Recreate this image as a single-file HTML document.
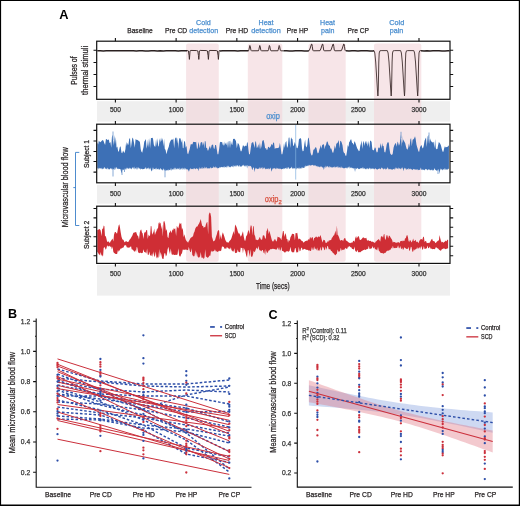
<!DOCTYPE html>
<html><head><meta charset="utf-8"><title>Figure</title>
<style>html,body{margin:0;padding:0;background:#fff;width:520px;height:506px;overflow:hidden}svg{display:block;will-change:transform}text{font-family:"Liberation Sans",sans-serif}</style>
</head><body>
<svg width="520" height="506" viewBox="0 0 520 506" font-family='"Liberation Sans", sans-serif'><rect x="0" y="0" width="520" height="506" fill="#fff"/>
<rect x="97.0" y="101.2" width="353.0" height="20.5" fill="#efefef"/>
<rect x="97.0" y="185.1" width="353.0" height="18.6" fill="#efefef"/>
<rect x="97.0" y="264.9" width="353.0" height="30.7" fill="#efefef"/>
<rect x="186.1" y="43.4" width="32.7" height="218.4" rx="2.2" fill="#f2d4d8" fill-opacity="0.6"/>
<rect x="247.8" y="43.4" width="34.5" height="218.4" rx="2.2" fill="#f2d4d8" fill-opacity="0.6"/>
<rect x="308.5" y="43.4" width="37.2" height="218.4" rx="2.2" fill="#f2d4d8" fill-opacity="0.6"/>
<rect x="374.0" y="43.4" width="47.3" height="218.4" rx="2.2" fill="#f2d4d8" fill-opacity="0.6"/>
<path d="M187.00,50.85 L187.20,50.55 L188.40,50.90 L189.05,55.50 L189.40,59.40 L189.75,55.00 L190.00,50.90 L190.80,50.45 L196.60,50.55 L197.80,50.90 L198.45,55.50 L198.80,59.40 L199.15,55.00 L199.40,50.90 L200.20,50.45 L206.20,50.55 L207.40,50.90 L208.05,55.50 L208.40,59.40 L208.75,55.00 L209.00,50.90 L209.80,50.45 L216.20,50.55 L217.40,50.90 L218.05,55.50 L218.40,59.40 L218.75,55.00 L219.00,50.90 L219.80,50.45 L219.80,50.60 M248.50,50.85 L248.55,50.75 L248.95,49.60 L249.85,45.50 L250.25,46.40 L250.95,50.30 L251.45,50.80 L258.45,50.75 L258.85,49.60 L259.75,45.50 L260.15,46.40 L260.85,50.30 L261.35,50.80 L268.10,50.75 L268.50,49.60 L269.40,45.50 L269.80,46.40 L270.50,50.30 L271.00,50.80 L277.90,50.75 L278.30,49.60 L279.20,45.50 L279.60,46.40 L280.30,50.30 L280.80,50.80 L283.50,50.85 M308.90,50.85 L309.10,50.70 L309.90,49.00 L311.50,44.10 L311.90,44.20 L312.30,46.50 L312.80,50.20 L313.30,50.80 L320.00,50.70 L320.80,49.00 L322.40,44.10 L322.80,44.20 L323.20,46.50 L323.70,50.20 L324.20,50.80 L330.60,50.70 L331.40,49.00 L333.00,44.10 L333.40,44.20 L333.80,46.50 L334.30,50.20 L334.80,50.80 L341.30,50.70 L342.10,49.00 L343.70,44.10 L344.10,44.20 L344.50,46.50 L345.00,50.20 L345.50,50.80 L346.00,50.85" fill="none" stroke="#3a2828" stroke-width="0.95" stroke-linejoin="round"/>
<path d="M374.00,50.60 L374.80,53.00 L375.70,62.00 L376.70,78.00 L377.50,91.00 L377.90,96.00 L378.25,90.00 L378.80,62.00 L379.20,53.00 L379.90,50.80 L381.10,50.60 L387.30,50.60 L388.10,53.00 L389.00,62.00 L390.00,78.00 L390.80,91.00 L391.20,96.00 L391.55,90.00 L392.10,62.00 L392.50,53.00 L393.20,50.80 L394.40,50.60 L400.60,50.60 L401.40,53.00 L402.30,62.00 L403.30,78.00 L404.10,91.00 L404.50,96.00 L404.85,90.00 L405.40,62.00 L405.80,53.00 L406.50,50.80 L407.70,50.60 L413.80,50.60 L414.60,53.00 L415.50,62.00 L416.50,78.00 L417.30,91.00 L417.70,96.00 L418.05,90.00 L418.60,62.00 L419.00,53.00 L419.70,50.80 L420.90,50.60 L421.00,50.85" fill="none" stroke="#3e2e2e" stroke-width="0.9" stroke-linejoin="round"/>
<path d="M97.30,50.81 L100.30,50.77 L103.30,50.89 L106.30,50.75 L109.30,50.86 L112.30,50.82 L115.30,50.74 L118.30,50.85 L121.30,50.74 L124.30,50.83 L127.30,50.75 L130.30,50.75 L133.30,50.83 L136.30,50.93 L139.30,50.76 L142.30,50.78 L145.30,50.88 L148.30,50.96 L151.30,50.87 L154.30,50.83 L157.30,50.96 L160.30,50.74 L163.30,50.94 L166.30,50.80 L169.30,50.76 L172.30,50.76 L175.30,50.80 L178.30,50.93 L181.30,50.77 L184.30,50.87 L187.00,50.85 M219.80,50.88 L222.80,50.82 L225.80,50.86 L228.80,50.75 L231.80,50.74 L234.80,50.78 L237.80,50.89 L240.80,50.83 L243.80,50.81 L246.80,50.87 L248.50,50.85 M283.50,50.84 L286.50,50.80 L289.50,50.92 L292.50,50.90 L295.50,50.79 L298.50,50.87 L301.50,50.86 L304.50,50.94 L307.50,50.91 L308.90,50.85 M346.00,50.80 L349.00,50.97 L352.00,50.76 L355.00,50.83 L358.00,50.91 L361.00,50.77 L364.00,50.85 L367.00,50.74 L370.00,50.89 L373.00,50.91 L374.00,50.85 M421.00,50.87 L424.00,50.94 L427.00,50.81 L430.00,50.90 L433.00,50.87 L436.00,50.87 L439.00,50.84 L442.00,50.93 L445.00,50.96 L448.00,50.84 L449.60,50.85" fill="none" stroke="#2a2020" stroke-width="1.5" stroke-linejoin="round"/>
<path d="M97.30,142.30 L98.20,144.47 L98.80,140.54 L99.64,141.68 L100.26,142.25 L101.12,141.49 L102.01,140.57 L102.75,140.11 L103.46,140.72 L104.25,142.92 L105.11,145.01 L105.90,139.20 L106.60,139.10 L107.31,140.24 L107.99,139.58 L108.88,139.73 L109.59,143.15 L110.47,141.91 L111.23,147.77 L111.94,136.79 L112.64,134.81 L113.48,145.69 L114.19,134.90 L115.00,144.30 L115.88,136.93 L116.54,147.83 L117.34,146.48 L118.17,151.50 L118.87,151.50 L119.76,147.31 L120.63,146.28 L121.43,152.42 L122.22,153.20 L123.07,150.60 L123.85,152.10 L124.55,153.00 L125.43,149.35 L126.16,141.83 L126.90,146.01 L127.67,142.80 L128.35,145.37 L129.22,138.70 L130.03,138.16 L130.84,148.23 L131.73,142.03 L132.35,137.45 L133.22,138.74 L134.08,143.21 L134.83,147.68 L135.58,139.11 L136.19,139.74 L136.98,139.67 L137.87,140.27 L138.55,140.71 L139.23,141.54 L139.85,141.51 L140.73,149.19 L141.35,151.49 L142.23,152.70 L142.86,149.81 L143.56,147.09 L144.26,141.65 L145.03,140.48 L145.87,138.95 L146.62,148.66 L147.44,144.40 L148.07,138.74 L148.70,147.78 L149.37,138.10 L150.05,148.52 L150.94,138.00 L151.68,137.89 L152.31,137.77 L152.98,138.59 L153.79,144.39 L154.44,146.21 L155.31,146.82 L156.06,138.88 L156.84,146.37 L157.45,137.94 L158.22,145.87 L158.82,146.77 L159.62,138.13 L160.29,142.41 L161.04,137.46 L161.83,141.20 L162.65,137.88 L163.33,146.45 L164.09,138.77 L164.75,148.65 L165.59,149.90 L166.48,154.20 L167.36,150.41 L168.17,148.22 L168.77,146.63 L169.48,143.33 L170.33,141.23 L171.02,140.08 L171.72,139.38 L172.57,139.65 L173.33,138.48 L174.17,148.15 L174.99,138.74 L175.78,137.59 L176.52,137.83 L177.20,143.40 L177.85,137.62 L178.52,148.70 L179.17,137.82 L179.85,138.65 L180.58,138.30 L181.26,142.67 L182.12,139.28 L182.85,147.99 L183.46,148.37 L184.06,141.51 L184.95,141.28 L185.76,147.81 L186.49,145.86 L187.37,153.22 L188.16,154.20 L188.94,151.43 L189.67,149.20 L190.35,145.85 L190.95,143.77 L191.75,144.62 L192.48,144.18 L193.23,141.68 L193.90,141.93 L194.65,141.94 L195.53,142.24 L196.17,141.75 L197.04,149.13 L197.70,147.80 L198.41,141.66 L199.11,144.68 L199.82,148.28 L200.56,142.78 L201.43,142.23 L202.04,141.65 L202.87,145.66 L203.65,141.72 L204.26,148.60 L204.86,141.00 L205.58,141.49 L206.23,148.09 L207.02,147.78 L207.64,150.40 L208.25,150.40 L209.15,147.87 L209.96,145.87 L210.76,149.12 L211.61,145.28 L212.27,144.75 L213.05,144.49 L213.72,148.30 L214.46,148.98 L215.15,145.03 L216.03,144.97 L216.86,149.67 L217.52,154.20 L218.30,154.20 L219.11,149.17 L219.87,142.41 L220.66,141.81 L221.35,142.28 L222.06,141.85 L222.71,144.54 L223.44,145.73 L224.09,141.58 L224.72,145.85 L225.40,142.61 L226.24,145.27 L227.14,141.45 L228.01,148.14 L228.67,141.53 L229.34,140.83 L230.01,148.36 L230.84,140.48 L231.61,144.33 L232.33,145.12 L233.12,138.83 L233.86,138.97 L234.59,138.74 L235.38,140.00 L235.99,141.15 L236.85,148.20 L237.75,142.96 L238.58,143.67 L239.23,145.08 L239.98,148.34 L240.68,151.20 L241.48,151.20 L242.24,148.13 L243.01,144.96 L243.73,145.96 L244.44,146.73 L245.05,145.71 L245.83,145.79 L246.47,146.24 L247.11,141.92 L247.75,142.95 L248.41,149.53 L249.08,154.20 L249.91,154.20 L250.68,148.52 L251.50,143.36 L252.23,142.58 L253.11,142.05 L253.90,144.79 L254.51,147.88 L255.34,141.57 L255.97,141.44 L256.78,147.88 L257.51,147.29 L258.40,143.91 L259.07,149.03 L259.93,142.25 L260.74,149.03 L261.55,146.02 L262.24,141.24 L262.89,140.32 L263.53,139.90 L264.34,143.30 L265.18,148.52 L266.06,148.05 L266.67,149.91 L267.46,149.60 L268.12,146.75 L268.80,146.99 L269.55,147.98 L270.29,147.04 L270.95,145.81 L271.55,143.70 L272.30,145.59 L273.15,142.92 L273.96,142.22 L274.79,148.88 L275.51,148.21 L276.12,148.06 L276.84,148.13 L277.66,147.96 L278.31,147.77 L279.04,147.43 L279.91,142.87 L280.76,148.15 L281.52,154.20 L282.33,154.20 L283.23,149.53 L284.02,142.88 L284.74,147.93 L285.48,142.43 L286.35,140.94 L287.02,148.12 L287.88,146.07 L288.66,137.77 L289.45,137.58 L290.18,148.12 L291.01,137.31 L291.77,138.68 L292.40,139.08 L293.20,145.88 L293.86,145.46 L294.75,141.99 L295.36,143.51 L296.04,145.03 L296.70,148.09 L297.54,148.15 L298.20,145.79 L299.05,138.41 L299.90,138.94 L300.57,137.73 L301.26,139.41 L302.05,148.52 L302.67,151.20 L303.52,151.05 L304.31,144.30 L305.15,139.57 L305.80,146.10 L306.66,147.45 L307.42,144.24 L308.10,137.54 L308.84,138.60 L309.70,144.76 L310.50,152.52 L311.12,154.57 L311.93,155.80 L312.67,154.31 L313.38,149.74 L314.21,149.62 L315.06,148.12 L315.74,146.98 L316.44,148.06 L317.27,152.24 L317.89,153.50 L318.67,152.47 L319.45,149.26 L320.12,147.55 L320.77,145.02 L321.48,148.81 L322.17,145.06 L323.05,144.59 L323.90,144.26 L324.67,149.21 L325.31,145.73 L325.91,145.14 L326.77,141.83 L327.59,141.46 L328.44,144.44 L329.18,145.73 L329.79,145.41 L330.48,148.75 L331.10,148.14 L331.74,149.86 L332.47,152.51 L333.24,152.70 L334.08,149.33 L334.86,145.37 L335.67,149.06 L336.27,143.87 L337.14,143.24 L337.91,142.18 L338.78,140.04 L339.44,148.58 L340.25,140.83 L341.08,141.36 L341.75,142.68 L342.50,145.23 L343.31,151.27 L343.95,152.70 L344.74,153.18 L345.50,155.78 L346.24,155.80 L347.13,150.20 L347.74,144.98 L348.51,146.90 L349.12,142.13 L349.80,141.39 L350.52,139.75 L351.19,139.24 L352.06,142.85 L352.85,143.19 L353.73,144.93 L354.36,141.24 L355.02,142.10 L355.67,143.75 L356.53,146.48 L357.41,148.71 L358.26,149.90 L358.88,151.20 L359.56,150.83 L360.26,146.07 L360.89,143.74 L361.55,140.59 L362.26,148.99 L362.95,143.26 L363.84,140.64 L364.44,146.05 L365.32,140.64 L366.15,144.28 L366.93,140.70 L367.74,146.53 L368.56,140.66 L369.26,148.10 L370.14,140.52 L370.99,140.91 L371.59,142.11 L372.40,149.46 L373.12,150.20 L373.87,150.20 L374.76,147.58 L375.60,147.82 L376.21,150.95 L376.84,152.60 L377.59,152.06 L378.23,148.05 L379.05,147.30 L379.78,148.50 L380.61,143.12 L381.50,148.75 L382.12,142.91 L382.85,146.27 L383.58,145.82 L384.41,151.94 L385.28,152.60 L385.96,149.32 L386.71,144.40 L387.51,142.50 L388.19,141.96 L388.83,143.30 L389.45,148.79 L390.25,153.57 L391.03,154.38 L391.79,155.00 L392.65,153.88 L393.54,147.83 L394.40,144.89 L395.22,143.72 L395.87,142.83 L396.72,146.68 L397.55,141.41 L398.19,142.76 L398.94,145.76 L399.80,143.58 L400.62,134.36 L401.32,146.76 L401.97,135.03 L402.60,143.17 L403.48,139.32 L404.25,141.59 L405.15,143.01 L405.86,145.96 L406.62,148.76 L407.39,149.84 L408.18,147.83 L408.83,143.49 L409.46,147.49 L410.33,139.38 L411.08,137.93 L411.79,146.26 L412.62,139.82 L413.48,139.37 L414.24,138.21 L415.01,136.26 L415.65,138.78 L416.43,144.46 L417.13,147.01 L417.76,148.97 L418.47,151.60 L419.20,151.80 L420.06,147.28 L420.84,145.64 L421.56,145.02 L422.30,147.67 L422.96,148.42 L423.72,145.86 L424.57,140.73 L425.24,139.06 L426.05,137.56 L426.78,147.02 L427.60,136.79 L428.35,134.78 L429.03,144.10 L429.81,137.56 L430.57,140.13 L431.35,141.48 L432.20,142.36 L432.91,142.51 L433.58,141.72 L434.45,148.11 L435.13,138.94 L435.86,148.29 L436.56,149.23 L437.38,149.12 L438.04,145.56 L438.83,141.95 L439.51,142.65 L440.34,143.99 L440.96,145.46 L441.83,149.11 L442.66,151.80 L443.38,151.80 L444.17,148.19 L444.92,146.22 L445.74,147.51 L446.53,147.09 L447.25,147.11 L448.05,146.22 L448.93,145.16 L448.93,169.34 L448.05,168.39 L447.25,170.06 L446.53,169.21 L445.74,169.89 L444.92,168.10 L444.17,169.97 L443.38,168.93 L442.66,170.53 L441.83,168.85 L440.96,170.13 L440.34,168.34 L439.51,173.95 L438.83,168.71 L438.04,170.97 L437.38,170.04 L436.56,170.89 L435.86,169.46 L435.13,170.27 L434.45,167.97 L433.58,170.63 L432.91,169.61 L432.20,170.75 L431.35,169.48 L430.57,170.44 L429.81,169.14 L429.03,170.35 L428.35,168.98 L427.60,170.50 L426.78,169.00 L426.05,169.85 L425.24,168.70 L424.57,170.47 L423.72,169.53 L422.96,170.21 L422.30,169.34 L421.56,170.30 L420.84,167.51 L420.06,169.95 L419.20,169.71 L418.47,170.16 L417.76,169.04 L417.13,170.32 L416.43,169.26 L415.65,169.91 L415.01,168.70 L414.24,169.85 L413.48,168.70 L412.62,170.33 L411.79,168.95 L411.08,169.67 L410.33,168.49 L409.46,169.53 L408.83,167.76 L408.18,169.82 L407.39,168.71 L406.62,169.92 L405.86,167.79 L405.15,169.57 L404.25,167.56 L403.48,171.21 L402.60,167.03 L401.97,169.44 L401.32,167.44 L400.62,169.41 L399.80,167.74 L398.94,169.59 L398.19,167.37 L397.55,169.34 L396.72,167.56 L395.87,169.39 L395.22,167.36 L394.40,169.64 L393.54,168.81 L392.65,169.67 L391.79,169.29 L391.03,169.78 L390.25,168.77 L389.45,169.48 L388.83,168.32 L388.19,169.73 L387.51,167.12 L386.71,169.61 L385.96,168.23 L385.28,169.68 L384.41,168.22 L383.58,169.69 L382.85,167.81 L382.12,169.00 L381.50,167.28 L380.61,169.49 L379.78,168.24 L379.05,169.10 L378.23,168.66 L377.59,169.66 L376.84,168.98 L376.21,169.41 L375.60,167.90 L374.76,169.62 L373.87,168.27 L373.12,169.15 L372.40,168.31 L371.59,169.21 L370.99,167.84 L370.14,169.39 L369.26,167.52 L368.56,169.56 L367.74,168.06 L366.93,169.41 L366.15,168.26 L365.32,169.44 L364.44,168.03 L363.84,169.24 L362.95,167.06 L362.26,168.71 L361.55,167.90 L360.89,168.73 L360.26,168.10 L359.56,169.33 L358.88,168.56 L358.26,169.33 L357.41,167.80 L356.53,168.99 L355.67,167.88 L355.02,172.04 L354.36,167.88 L353.73,168.67 L352.85,167.71 L352.06,168.40 L351.19,167.22 L350.52,168.17 L349.80,166.23 L349.12,168.86 L348.51,166.39 L347.74,168.83 L347.13,167.03 L346.24,168.51 L345.50,167.48 L344.74,168.46 L343.95,167.70 L343.31,168.46 L342.50,167.41 L341.75,167.88 L341.08,166.14 L340.25,168.30 L339.44,166.94 L338.78,168.00 L337.91,166.05 L337.14,167.80 L336.27,166.54 L335.67,167.81 L334.86,166.20 L334.08,167.79 L333.24,166.79 L332.47,167.86 L331.74,166.83 L331.10,168.01 L330.48,166.40 L329.79,167.68 L329.18,165.68 L328.44,167.71 L327.59,165.87 L326.77,167.60 L325.91,165.61 L325.31,168.02 L324.67,166.39 L323.90,170.07 L323.05,167.06 L322.17,167.75 L321.48,166.32 L320.77,167.37 L320.12,165.97 L319.45,167.46 L318.67,166.15 L317.89,167.26 L317.27,165.76 L316.44,166.55 L315.74,165.08 L315.06,166.23 L314.21,165.11 L313.38,165.70 L312.67,164.76 L311.93,165.24 L311.12,165.33 L310.50,165.84 L309.70,164.78 L308.84,166.15 L308.10,164.78 L307.42,166.26 L306.66,165.75 L305.80,166.93 L305.15,165.16 L304.31,168.02 L303.52,167.69 L302.67,168.28 L302.05,166.80 L301.26,168.74 L300.57,168.12 L299.90,169.34 L299.05,167.29 L298.20,169.06 L297.54,167.87 L296.70,169.44 L296.04,167.18 L295.36,169.04 L294.75,168.03 L293.86,168.91 L293.20,167.63 L292.40,168.91 L291.77,166.49 L291.01,168.61 L290.18,167.90 L289.45,169.13 L288.66,166.75 L287.88,169.14 L287.02,166.93 L286.35,168.91 L285.48,167.79 L284.74,169.16 L284.02,167.86 L283.23,169.28 L282.33,168.85 L281.52,169.47 L280.76,168.38 L279.91,169.31 L279.04,168.28 L278.31,168.95 L277.66,167.96 L276.84,169.23 L276.12,167.52 L275.51,169.49 L274.79,167.64 L273.96,169.02 L273.15,167.97 L272.30,169.14 L271.55,171.76 L270.95,168.90 L270.29,167.43 L269.55,169.51 L268.80,168.00 L268.12,169.51 L267.46,168.61 L266.67,169.15 L266.06,168.34 L265.18,169.47 L264.34,167.28 L263.53,168.90 L262.89,166.71 L262.24,169.45 L261.55,167.13 L260.74,169.12 L259.93,166.91 L259.07,168.91 L258.40,168.43 L257.51,169.29 L256.78,167.98 L255.97,169.22 L255.34,167.57 L254.51,172.32 L253.90,167.22 L253.11,167.88 L252.23,170.21 L251.50,167.37 L250.68,165.68 L249.91,166.50 L249.08,165.59 L248.41,166.53 L247.75,164.85 L247.11,168.57 L246.47,164.93 L245.83,166.76 L245.05,164.88 L244.44,166.72 L243.73,164.47 L243.01,166.19 L242.24,165.06 L241.48,166.66 L240.68,166.29 L239.98,166.96 L239.23,164.82 L238.58,166.93 L237.75,164.87 L236.85,166.72 L235.99,164.78 L235.38,166.74 L234.59,165.38 L233.86,167.41 L233.12,165.05 L232.33,167.22 L231.61,165.77 L230.84,167.59 L230.01,166.56 L229.34,167.46 L228.67,165.38 L228.01,167.73 L227.14,165.38 L226.24,167.87 L225.40,166.80 L224.72,167.66 L224.09,165.98 L223.44,167.42 L222.71,167.08 L222.06,167.42 L221.35,166.69 L220.66,167.76 L219.87,166.71 L219.11,168.30 L218.30,167.88 L217.52,168.43 L216.86,167.11 L216.03,168.28 L215.15,166.32 L214.46,168.05 L213.72,166.34 L213.05,168.06 L212.27,167.65 L211.61,168.61 L210.76,167.05 L209.96,168.69 L209.15,168.06 L208.25,168.54 L207.64,168.10 L207.02,168.93 L206.23,166.83 L205.58,168.84 L204.86,166.49 L204.26,168.79 L203.65,167.70 L202.87,169.19 L202.04,166.82 L201.43,168.84 L200.56,168.14 L199.82,169.24 L199.11,166.88 L198.41,171.36 L197.70,168.50 L197.04,168.93 L196.17,167.97 L195.53,169.60 L194.65,167.99 L193.90,169.59 L193.23,168.15 L192.48,169.19 L191.75,168.69 L190.95,169.62 L190.35,167.96 L189.67,169.41 L188.94,171.80 L188.16,170.04 L187.37,169.30 L186.49,169.57 L185.76,167.93 L184.95,170.07 L184.06,167.57 L183.46,169.83 L182.85,167.44 L182.12,170.08 L181.26,168.10 L180.58,170.05 L179.85,167.59 L179.17,170.34 L178.52,168.24 L177.85,169.58 L177.20,168.07 L176.52,169.80 L175.78,167.41 L174.99,170.15 L174.17,167.47 L173.33,169.73 L172.57,168.92 L171.72,170.69 L171.02,167.64 L170.33,170.13 L169.48,169.69 L168.77,170.63 L168.17,169.29 L167.36,170.59 L166.48,170.13 L165.59,170.81 L164.75,169.72 L164.09,170.81 L163.33,168.18 L162.65,170.80 L161.83,169.08 L161.04,169.99 L160.29,167.77 L159.62,170.32 L158.82,168.16 L158.22,169.78 L157.45,168.87 L156.84,169.66 L156.06,167.40 L155.31,169.43 L154.44,168.78 L153.79,169.79 L152.98,167.30 L152.31,169.96 L151.68,171.60 L150.94,169.87 L150.05,167.44 L149.37,169.64 L148.70,167.20 L148.07,169.53 L147.44,167.83 L146.62,169.44 L145.87,166.92 L145.03,168.91 L144.26,168.58 L143.56,169.36 L142.86,168.69 L142.23,169.45 L141.35,168.61 L140.73,169.65 L139.85,167.80 L139.23,169.19 L138.55,166.90 L137.87,169.64 L136.98,166.69 L136.19,169.65 L135.58,167.83 L134.83,169.50 L134.08,166.57 L133.22,169.00 L132.35,167.04 L131.73,169.50 L130.84,167.79 L130.03,169.14 L129.22,167.44 L128.35,169.25 L127.67,167.57 L126.90,169.65 L126.16,167.55 L125.43,169.79 L124.55,168.59 L123.85,170.22 L123.07,169.24 L122.22,170.25 L121.43,173.76 L120.63,169.44 L119.76,168.67 L118.87,169.35 L118.17,168.45 L117.34,169.03 L116.54,166.78 L115.88,169.79 L115.00,167.09 L114.19,170.30 L113.48,168.82 L112.64,169.74 L111.94,168.05 L111.23,169.61 L110.47,167.94 L109.59,169.66 L108.88,168.39 L107.99,169.64 L107.31,167.38 L106.60,169.58 L105.90,168.10 L105.11,169.32 L104.25,166.82 L103.46,169.03 L102.75,168.43 L102.01,169.41 L101.12,167.84 L100.26,168.84 L99.64,167.78 L98.80,169.44 L98.20,167.64 L97.30,168.85Z" fill="#3d70b6"/>
<line x1="113" y1="131.5" x2="113" y2="140" stroke="#6b95cc" stroke-width="0.8"/>
<line x1="113" y1="169" x2="113" y2="176.5" stroke="#6b95cc" stroke-width="0.8"/>
<line x1="165" y1="169" x2="165" y2="177.3" stroke="#6b95cc" stroke-width="0.8"/>
<line x1="122" y1="169" x2="122" y2="175" stroke="#6b95cc" stroke-width="0.8"/>
<line x1="401" y1="131.8" x2="401" y2="138" stroke="#6b95cc" stroke-width="0.8"/>
<line x1="429" y1="132.5" x2="429" y2="138" stroke="#6b95cc" stroke-width="0.8"/>
<line x1="438" y1="169" x2="438" y2="174" stroke="#6b95cc" stroke-width="0.8"/>
<line x1="124.5" y1="169" x2="124.5" y2="172" stroke="#6b95cc" stroke-width="0.8"/>
<line x1="295.7" y1="124.8" x2="295.7" y2="179.6" stroke="#7fb0e0" stroke-width="0.7"/>
<path d="M97.30,230.06 L97.95,229.78 L98.80,229.38 L99.42,229.09 L100.05,229.48 L100.67,230.49 L101.49,236.23 L102.22,228.46 L103.01,228.94 L103.69,225.55 L104.38,226.31 L105.03,236.55 L105.68,235.86 L106.39,238.51 L107.18,242.07 L107.93,241.40 L108.55,241.60 L109.18,241.89 L109.78,243.26 L110.47,241.48 L111.20,240.60 L111.89,239.46 L112.51,238.48 L113.37,241.48 L113.99,234.81 L114.87,232.11 L115.74,231.90 L116.37,233.16 L117.12,233.49 L117.99,228.41 L118.62,225.48 L119.29,224.36 L119.91,227.09 L120.68,232.20 L121.49,236.73 L122.38,239.58 L123.00,239.59 L123.66,240.14 L124.45,242.15 L125.10,242.00 L125.95,241.08 L126.76,241.58 L127.61,242.10 L128.26,241.89 L128.87,241.04 L129.56,239.82 L130.32,239.05 L131.02,237.76 L131.63,236.85 L132.37,235.39 L133.16,233.18 L133.93,232.53 L134.71,232.49 L135.41,232.36 L136.05,231.84 L136.73,233.76 L137.34,235.41 L138.13,235.93 L138.99,239.39 L139.81,232.32 L140.54,229.96 L141.28,229.42 L141.92,232.57 L142.69,233.51 L143.38,239.02 L144.26,232.41 L145.16,232.42 L145.78,231.84 L146.38,229.88 L147.10,230.10 L147.76,239.02 L148.61,234.47 L149.37,235.99 L150.06,235.62 L150.77,225.89 L151.47,226.17 L152.07,234.65 L152.85,233.31 L153.50,231.99 L154.26,228.51 L154.96,234.90 L155.79,232.25 L156.47,231.11 L157.22,227.69 L157.89,229.68 L158.50,223.58 L159.21,222.07 L159.86,223.90 L160.61,222.58 L161.31,229.32 L162.10,224.66 L162.83,236.58 L163.50,221.72 L164.33,221.05 L165.10,223.86 L165.92,230.98 L166.79,229.10 L167.57,237.09 L168.40,238.18 L169.09,233.05 L169.96,231.99 L170.77,230.22 L171.63,233.31 L172.44,229.21 L173.07,230.38 L173.71,228.33 L174.51,228.91 L175.22,228.21 L176.11,236.02 L176.79,225.82 L177.55,227.18 L178.32,228.57 L179.13,224.66 L179.85,222.39 L180.45,224.28 L181.16,222.85 L182.00,230.06 L182.79,227.64 L183.62,237.20 L184.29,234.33 L185.01,236.89 L185.79,239.67 L186.67,241.27 L187.33,241.82 L188.09,242.70 L188.83,241.11 L189.44,240.27 L190.09,238.81 L190.84,237.63 L191.65,237.33 L192.30,236.75 L193.01,236.23 L193.78,233.06 L194.48,231.78 L195.34,228.42 L196.05,227.20 L196.74,226.58 L197.45,226.50 L198.26,224.87 L199.09,223.42 L199.92,221.61 L200.77,219.03 L201.52,223.08 L202.24,225.91 L203.07,225.73 L203.70,228.08 L204.50,226.88 L205.23,227.13 L205.87,224.58 L206.56,222.67 L207.32,221.63 L208.18,234.53 L208.80,214.79 L209.57,212.59 L210.34,213.01 L211.11,217.04 L211.92,236.78 L212.66,239.05 L213.27,241.58 L214.15,240.83 L214.95,240.51 L215.83,237.33 L216.71,234.82 L217.52,231.59 L218.37,229.99 L219.14,230.64 L219.78,240.01 L220.49,234.17 L221.23,239.39 L222.08,234.79 L222.84,232.22 L223.72,234.67 L224.48,236.98 L225.34,240.08 L226.23,241.59 L226.93,242.61 L227.76,242.15 L228.53,242.87 L229.28,241.17 L229.99,240.41 L230.87,239.59 L231.51,238.12 L232.28,235.55 L233.03,232.89 L233.67,231.05 L234.27,234.84 L235.08,224.59 L235.69,225.55 L236.31,226.53 L237.12,228.87 L237.74,231.21 L238.58,233.41 L239.30,233.31 L240.11,234.91 L240.77,236.70 L241.52,235.53 L242.31,233.37 L242.94,231.28 L243.74,236.50 L244.61,240.60 L245.34,240.73 L246.23,236.12 L247.06,235.22 L247.80,232.07 L248.61,229.87 L249.50,234.39 L250.35,227.14 L250.95,225.08 L251.67,226.30 L252.38,235.41 L253.06,226.35 L253.70,226.16 L254.38,234.60 L255.16,236.28 L255.92,240.18 L256.67,239.46 L257.52,240.22 L258.37,239.79 L259.17,238.29 L259.88,236.82 L260.69,239.36 L261.30,239.64 L262.13,239.47 L262.83,235.41 L263.60,235.25 L264.39,235.65 L265.12,238.86 L265.84,238.22 L266.48,230.90 L267.13,230.37 L267.78,227.69 L268.67,234.37 L269.33,230.81 L270.04,233.22 L270.92,236.50 L271.61,239.22 L272.41,241.75 L273.17,240.17 L273.78,241.85 L274.46,239.14 L275.27,239.20 L276.06,241.21 L276.78,241.19 L277.62,236.40 L278.38,237.15 L279.00,237.11 L279.77,237.72 L280.61,238.53 L281.36,240.31 L282.15,235.67 L282.93,230.96 L283.62,231.00 L284.51,236.97 L285.36,232.99 L286.04,234.98 L286.66,238.91 L287.36,238.88 L288.02,242.63 L288.85,239.45 L289.64,241.14 L290.42,237.33 L291.31,235.73 L291.95,233.97 L292.65,233.63 L293.47,233.99 L294.13,234.33 L294.95,240.39 L295.57,232.89 L296.36,233.30 L297.26,232.77 L298.13,238.35 L298.78,239.43 L299.61,238.41 L300.38,239.26 L301.26,240.40 L302.08,240.89 L302.68,241.21 L303.53,242.78 L304.29,241.88 L305.03,241.26 L305.75,240.90 L306.49,240.57 L307.11,241.26 L307.91,239.79 L308.65,239.13 L309.32,239.80 L310.17,236.76 L311.06,238.64 L311.94,237.24 L312.82,237.27 L313.45,241.33 L314.10,237.99 L314.97,237.83 L315.72,236.81 L316.34,236.40 L317.16,237.58 L317.80,237.36 L318.69,236.15 L319.55,237.24 L320.37,235.04 L320.98,236.59 L321.73,239.65 L322.61,242.44 L323.42,239.75 L324.29,239.93 L324.96,240.53 L325.69,242.91 L326.55,243.03 L327.27,241.09 L327.97,242.61 L328.73,240.59 L329.44,240.43 L330.23,239.99 L331.04,240.28 L331.91,237.66 L332.56,237.21 L333.39,235.49 L334.05,235.48 L334.85,232.89 L335.47,230.47 L336.22,235.53 L336.87,225.46 L337.60,234.64 L338.45,235.64 L339.30,237.95 L340.17,240.72 L340.82,240.24 L341.62,240.10 L342.47,240.36 L343.11,241.28 L343.75,239.37 L344.58,237.97 L345.29,238.19 L346.09,240.97 L346.72,240.42 L347.46,241.26 L348.08,242.16 L348.71,242.37 L349.59,242.93 L350.27,242.72 L350.95,243.32 L351.68,242.23 L352.32,242.83 L353.11,241.09 L353.88,240.76 L354.52,242.07 L355.23,238.20 L356.10,235.89 L356.74,238.57 L357.46,237.18 L358.21,235.89 L358.99,236.79 L359.73,239.85 L360.43,239.97 L361.28,239.53 L362.05,238.40 L362.94,237.50 L363.80,237.54 L364.54,238.19 L365.43,238.25 L366.30,237.63 L367.19,241.09 L368.03,239.75 L368.83,240.68 L369.49,241.00 L370.29,240.86 L371.10,241.30 L371.90,242.03 L372.71,241.46 L373.38,241.92 L374.27,242.67 L375.07,242.67 L375.75,241.45 L376.37,241.34 L377.18,240.35 L377.99,239.85 L378.84,239.06 L379.50,240.35 L380.28,241.45 L380.88,236.83 L381.48,236.32 L382.16,236.26 L383.04,237.74 L383.74,234.44 L384.36,233.73 L385.04,239.81 L385.70,239.19 L386.51,235.15 L387.35,235.23 L388.19,238.43 L388.96,235.50 L389.75,235.99 L390.57,237.60 L391.36,238.78 L392.05,239.67 L392.88,242.75 L393.58,241.76 L394.20,241.97 L395.07,242.29 L395.82,242.76 L396.45,242.68 L397.25,242.48 L398.09,242.33 L398.87,242.16 L399.48,243.24 L400.27,241.35 L401.00,241.11 L401.61,241.00 L402.24,240.46 L402.89,241.61 L403.56,240.59 L404.43,240.88 L405.12,237.86 L405.77,238.81 L406.45,235.69 L407.30,235.08 L407.96,237.18 L408.56,241.02 L409.26,242.03 L409.97,239.82 L410.85,240.94 L411.52,242.55 L412.35,241.12 L413.20,238.49 L413.90,241.33 L414.78,240.75 L415.64,239.83 L416.48,242.21 L417.11,241.48 L417.73,242.08 L418.45,243.19 L419.32,240.90 L420.18,239.56 L420.94,239.35 L421.60,238.93 L422.24,239.96 L423.05,237.23 L423.89,236.40 L424.55,241.98 L425.37,241.08 L426.19,241.17 L426.83,243.19 L427.49,242.89 L428.19,242.77 L429.06,243.36 L429.83,242.19 L430.61,241.03 L431.35,239.57 L432.18,238.82 L432.96,241.24 L433.78,240.91 L434.66,241.59 L435.28,242.96 L436.07,242.84 L436.73,241.71 L437.38,241.21 L438.13,240.54 L438.88,240.57 L439.52,234.99 L440.24,238.17 L440.96,241.08 L441.81,242.49 L442.54,241.82 L443.36,242.65 L444.19,241.88 L444.96,241.48 L445.80,240.61 L446.51,241.53 L447.30,239.51 L448.13,240.24 L448.13,248.18 L447.30,248.47 L446.51,248.64 L445.80,249.24 L444.96,248.75 L444.19,248.58 L443.36,248.51 L442.54,248.93 L441.81,249.21 L440.96,250.73 L440.24,250.55 L439.52,249.92 L438.88,249.61 L438.13,248.49 L437.38,248.15 L436.73,247.88 L436.07,246.68 L435.28,248.59 L434.66,249.24 L433.78,248.95 L432.96,248.90 L432.18,249.19 L431.35,248.61 L430.61,248.64 L429.83,246.58 L429.06,248.05 L428.19,248.20 L427.49,245.62 L426.83,248.17 L426.19,248.38 L425.37,248.78 L424.55,248.98 L423.89,246.10 L423.05,249.16 L422.24,249.80 L421.60,246.59 L420.94,246.55 L420.18,248.88 L419.32,247.01 L418.45,248.62 L417.73,248.75 L417.11,247.11 L416.48,248.91 L415.64,248.88 L414.78,250.51 L413.90,248.91 L413.20,251.42 L412.35,251.71 L411.52,247.07 L410.85,246.78 L409.97,250.13 L409.26,251.07 L408.56,246.74 L407.96,248.44 L407.30,248.90 L406.45,248.94 L405.77,248.01 L405.12,248.44 L404.43,247.01 L403.56,249.53 L402.89,249.85 L402.24,247.60 L401.61,249.36 L401.00,248.45 L400.27,245.92 L399.48,248.27 L398.87,248.17 L398.09,245.32 L397.25,247.68 L396.45,248.09 L395.82,247.84 L395.07,248.13 L394.20,247.96 L393.58,248.28 L392.88,245.86 L392.05,249.08 L391.36,247.45 L390.57,249.71 L389.75,249.85 L388.96,250.63 L388.19,250.40 L387.35,250.87 L386.51,251.32 L385.70,252.72 L385.04,252.72 L384.36,252.89 L383.74,254.02 L383.04,253.07 L382.16,253.35 L381.48,252.94 L380.88,252.94 L380.28,252.54 L379.50,251.29 L378.84,250.67 L377.99,246.81 L377.18,250.50 L376.37,249.57 L375.75,249.20 L375.07,249.24 L374.27,246.92 L373.38,248.76 L372.71,245.91 L371.90,248.33 L371.10,248.59 L370.29,248.67 L369.49,249.06 L368.83,245.67 L368.03,249.24 L367.19,248.86 L366.30,249.57 L365.43,250.06 L364.54,249.56 L363.80,250.04 L362.94,250.30 L362.05,251.05 L361.28,251.21 L360.43,252.17 L359.73,252.36 L358.99,252.04 L358.21,252.55 L357.46,249.86 L356.74,251.68 L356.10,251.75 L355.23,250.76 L354.52,246.44 L353.88,249.71 L353.11,249.09 L352.32,249.10 L351.68,248.36 L350.95,246.71 L350.27,247.46 L349.59,245.71 L348.71,247.39 L348.08,246.00 L347.46,248.39 L346.72,248.72 L346.09,248.77 L345.29,247.72 L344.58,249.40 L343.75,249.66 L343.11,249.72 L342.47,249.71 L341.62,250.67 L340.82,247.79 L340.17,250.44 L339.30,251.78 L338.45,251.83 L337.60,249.60 L336.87,253.68 L336.22,254.22 L335.47,255.32 L334.85,255.08 L334.05,253.81 L333.39,253.33 L332.56,252.47 L331.91,251.26 L331.04,250.88 L330.23,249.14 L329.44,249.24 L328.73,249.26 L327.97,246.26 L327.27,246.00 L326.55,249.92 L325.69,246.48 L324.96,250.32 L324.29,249.82 L323.42,247.51 L322.61,246.48 L321.73,250.25 L320.98,250.41 L320.37,246.80 L319.55,250.80 L318.69,250.22 L317.80,250.73 L317.16,247.49 L316.34,250.61 L315.72,248.36 L314.97,249.62 L314.10,246.25 L313.45,249.84 L312.82,249.98 L311.94,247.06 L311.06,250.78 L310.17,251.07 L309.32,250.16 L308.65,250.70 L307.91,249.85 L307.11,249.90 L306.49,249.67 L305.75,249.66 L305.03,248.85 L304.29,249.05 L303.53,249.26 L302.68,250.33 L302.08,248.23 L301.26,247.57 L300.38,251.05 L299.61,251.31 L298.78,246.66 L298.13,252.19 L297.26,252.37 L296.36,252.49 L295.57,248.05 L294.95,248.19 L294.13,252.27 L293.47,252.30 L292.65,252.53 L291.95,251.80 L291.31,251.41 L290.42,246.82 L289.64,250.75 L288.85,251.47 L288.02,251.76 L287.36,251.04 L286.66,251.43 L286.04,251.37 L285.36,252.41 L284.51,252.46 L283.62,251.44 L282.93,251.08 L282.15,251.02 L281.36,246.83 L280.61,250.55 L279.77,250.22 L279.00,246.98 L278.38,250.34 L277.62,247.14 L276.78,249.81 L276.06,249.25 L275.27,249.42 L274.46,248.97 L273.78,248.81 L273.17,248.95 L272.41,248.83 L271.61,249.13 L270.92,248.95 L270.04,249.43 L269.33,250.39 L268.67,250.58 L267.78,252.53 L267.13,252.94 L266.48,250.20 L265.84,255.19 L265.12,248.77 L264.39,253.69 L263.60,252.83 L262.83,250.00 L262.13,250.04 L261.30,251.61 L260.69,250.56 L259.88,250.51 L259.17,249.57 L258.37,246.02 L257.52,249.59 L256.67,247.61 L255.92,248.92 L255.16,251.31 L254.38,252.36 L253.70,250.70 L253.06,254.26 L252.38,256.55 L251.67,256.99 L250.95,256.03 L250.35,249.33 L249.50,256.85 L248.61,250.22 L247.80,250.24 L247.06,257.68 L246.23,255.51 L245.34,251.43 L244.61,249.69 L243.74,247.77 L242.94,253.39 L242.31,248.04 L241.52,247.94 L240.77,247.56 L240.11,252.52 L239.30,251.97 L238.58,251.93 L237.74,249.38 L237.12,252.34 L236.31,252.90 L235.69,252.63 L235.08,253.13 L234.27,248.20 L233.67,251.32 L233.03,251.73 L232.28,250.81 L231.51,250.30 L230.87,247.20 L229.99,249.45 L229.28,248.59 L228.53,248.40 L227.76,248.04 L226.93,246.78 L226.23,248.67 L225.34,248.61 L224.48,248.68 L223.72,246.63 L222.84,247.04 L222.08,246.06 L221.23,250.59 L220.49,250.90 L219.78,251.25 L219.14,250.57 L218.37,251.44 L217.52,252.08 L216.71,251.29 L215.83,251.60 L214.95,249.25 L214.15,250.99 L213.27,251.14 L212.66,251.14 L211.92,252.07 L211.11,250.44 L210.34,255.84 L209.57,255.60 L208.80,256.74 L208.18,257.56 L207.32,257.65 L206.56,256.71 L205.87,256.63 L205.23,249.25 L204.50,257.53 L203.70,259.13 L203.07,257.50 L202.24,257.76 L201.52,257.70 L200.77,251.92 L199.92,257.74 L199.09,256.48 L198.26,257.96 L197.45,255.88 L196.74,251.70 L196.05,256.20 L195.34,250.13 L194.48,256.11 L193.78,256.51 L193.01,255.79 L192.30,254.94 L191.65,248.20 L190.84,252.23 L190.09,251.74 L189.44,249.38 L188.83,246.75 L188.09,250.33 L187.33,250.11 L186.67,249.68 L185.79,249.48 L185.01,249.83 L184.29,249.82 L183.62,249.85 L182.79,249.40 L182.00,253.26 L181.16,254.35 L180.45,256.41 L179.85,256.39 L179.13,255.53 L178.32,248.30 L177.55,254.54 L176.79,254.77 L176.11,255.00 L175.22,254.70 L174.51,254.94 L173.71,255.04 L173.07,254.00 L172.44,254.93 L171.63,254.15 L170.77,248.48 L169.96,253.96 L169.09,250.64 L168.40,246.72 L167.57,249.39 L166.79,254.70 L165.92,256.49 L165.10,253.12 L164.33,253.57 L163.50,259.12 L162.83,259.08 L162.10,258.28 L161.31,254.51 L160.61,252.05 L159.86,257.26 L159.21,249.09 L158.50,256.99 L157.89,258.62 L157.22,256.53 L156.47,258.45 L155.79,251.39 L154.96,256.39 L154.26,256.53 L153.50,251.19 L152.85,257.04 L152.07,252.89 L151.47,256.04 L150.77,255.53 L150.06,255.24 L149.37,251.39 L148.61,255.12 L147.76,254.67 L147.10,248.54 L146.38,253.43 L145.78,252.93 L145.16,251.67 L144.26,252.15 L143.38,249.18 L142.69,252.97 L141.92,252.98 L141.28,253.30 L140.54,252.55 L139.81,253.31 L138.99,252.76 L138.13,252.49 L137.34,247.67 L136.73,246.79 L136.05,252.34 L135.41,250.02 L134.71,251.69 L133.93,251.16 L133.16,250.03 L132.37,249.42 L131.63,249.21 L131.02,245.88 L130.32,246.99 L129.56,247.42 L128.87,247.52 L128.26,247.69 L127.61,247.52 L126.76,247.25 L125.95,245.10 L125.10,245.42 L124.45,245.23 L123.66,247.29 L123.00,247.69 L122.38,247.78 L121.49,248.50 L120.68,248.52 L119.91,249.66 L119.29,250.82 L118.62,251.82 L117.99,249.69 L117.12,253.88 L116.37,254.06 L115.74,254.08 L114.87,253.62 L113.99,252.65 L113.37,251.89 L112.51,246.48 L111.89,249.52 L111.20,246.43 L110.47,247.00 L109.78,245.58 L109.18,246.51 L108.55,246.26 L107.93,246.38 L107.18,245.22 L106.39,248.59 L105.68,249.63 L105.03,248.08 L104.38,247.00 L103.69,248.08 L103.01,256.76 L102.22,255.13 L101.49,255.62 L100.67,252.09 L100.05,255.53 L99.42,254.45 L98.80,254.23 L97.95,252.57 L97.30,251.98Z" fill="#cf2e35"/>
<rect x="96.7" y="41.2" width="353.3" height="58.1" fill="none" stroke="#111" stroke-width="1.2"/>
<rect x="96.7" y="124.2" width="353.3" height="58.6" fill="none" stroke="#111" stroke-width="1.2"/>
<rect x="96.7" y="206.2" width="353.3" height="57.2" fill="none" stroke="#111" stroke-width="1.2"/>
<path d="M115.40,38.00V41.20M115.40,99.30V102.50M176.12,38.00V41.20M176.12,99.30V102.50M236.84,38.00V41.20M236.84,99.30V102.50M297.56,38.00V41.20M297.56,99.30V102.50M358.28,38.00V41.20M358.28,99.30V102.50M419.00,38.00V41.20M419.00,99.30V102.50M93.50,50.30H96.70M450.00,50.30H453.20M93.50,62.50H96.70M450.00,62.50H453.20M93.50,74.50H96.70M450.00,74.50H453.20M93.50,86.50H96.70M450.00,86.50H453.20M115.40,121.00V124.20M115.40,182.80V186.00M176.12,121.00V124.20M176.12,182.80V186.00M236.84,121.00V124.20M236.84,182.80V186.00M297.56,121.00V124.20M297.56,182.80V186.00M358.28,121.00V124.20M358.28,182.80V186.00M419.00,121.00V124.20M419.00,182.80V186.00M93.50,130.40H96.70M450.00,130.40H453.20M93.50,141.00H96.70M450.00,141.00H453.20M93.50,151.50H96.70M450.00,151.50H453.20M93.50,161.50H96.70M450.00,161.50H453.20M93.50,172.10H96.70M450.00,172.10H453.20M115.40,203.00V206.20M115.40,263.40V266.60M176.12,203.00V206.20M176.12,263.40V266.60M236.84,203.00V206.20M236.84,263.40V266.60M297.56,203.00V206.20M297.56,263.40V266.60M358.28,203.00V206.20M358.28,263.40V266.60M419.00,203.00V206.20M419.00,263.40V266.60M93.50,208.50H96.70M450.00,208.50H453.20M93.50,217.90H96.70M450.00,217.90H453.20M93.50,227.30H96.70M450.00,227.30H453.20M93.50,236.80H96.70M450.00,236.80H453.20M93.50,246.30H96.70M450.00,246.30H453.20M93.50,255.80H96.70M450.00,255.80H453.20" stroke="#111" stroke-width="1.1" fill="none"/>
<text x="115.40" y="112.00" font-size="6.9" fill="#333" text-anchor="middle" font-weight="normal" textLength="11.0" lengthAdjust="spacingAndGlyphs" stroke="#333" stroke-width="0.25">500</text>
<text x="176.12" y="112.00" font-size="6.9" fill="#333" text-anchor="middle" font-weight="normal" textLength="14.8" lengthAdjust="spacingAndGlyphs" stroke="#333" stroke-width="0.25">1000</text>
<text x="236.84" y="112.00" font-size="6.9" fill="#333" text-anchor="middle" font-weight="normal" textLength="14.8" lengthAdjust="spacingAndGlyphs" stroke="#333" stroke-width="0.25">1500</text>
<text x="297.56" y="112.00" font-size="6.9" fill="#333" text-anchor="middle" font-weight="normal" textLength="14.8" lengthAdjust="spacingAndGlyphs" stroke="#333" stroke-width="0.25">2000</text>
<text x="358.28" y="112.00" font-size="6.9" fill="#333" text-anchor="middle" font-weight="normal" textLength="14.8" lengthAdjust="spacingAndGlyphs" stroke="#333" stroke-width="0.25">2500</text>
<text x="419.00" y="112.00" font-size="6.9" fill="#333" text-anchor="middle" font-weight="normal" textLength="14.8" lengthAdjust="spacingAndGlyphs" stroke="#333" stroke-width="0.25">3000</text>
<text x="115.40" y="195.70" font-size="6.9" fill="#333" text-anchor="middle" font-weight="normal" textLength="11.0" lengthAdjust="spacingAndGlyphs" stroke="#333" stroke-width="0.25">500</text>
<text x="176.12" y="195.70" font-size="6.9" fill="#333" text-anchor="middle" font-weight="normal" textLength="14.8" lengthAdjust="spacingAndGlyphs" stroke="#333" stroke-width="0.25">1000</text>
<text x="236.84" y="195.70" font-size="6.9" fill="#333" text-anchor="middle" font-weight="normal" textLength="14.8" lengthAdjust="spacingAndGlyphs" stroke="#333" stroke-width="0.25">1500</text>
<text x="297.56" y="195.70" font-size="6.9" fill="#333" text-anchor="middle" font-weight="normal" textLength="14.8" lengthAdjust="spacingAndGlyphs" stroke="#333" stroke-width="0.25">2000</text>
<text x="358.28" y="195.70" font-size="6.9" fill="#333" text-anchor="middle" font-weight="normal" textLength="14.8" lengthAdjust="spacingAndGlyphs" stroke="#333" stroke-width="0.25">2500</text>
<text x="419.00" y="195.70" font-size="6.9" fill="#333" text-anchor="middle" font-weight="normal" textLength="14.8" lengthAdjust="spacingAndGlyphs" stroke="#333" stroke-width="0.25">3000</text>
<text x="115.40" y="276.00" font-size="6.9" fill="#333" text-anchor="middle" font-weight="normal" textLength="11.0" lengthAdjust="spacingAndGlyphs" stroke="#333" stroke-width="0.25">500</text>
<text x="176.12" y="276.00" font-size="6.9" fill="#333" text-anchor="middle" font-weight="normal" textLength="14.8" lengthAdjust="spacingAndGlyphs" stroke="#333" stroke-width="0.25">1000</text>
<text x="236.84" y="276.00" font-size="6.9" fill="#333" text-anchor="middle" font-weight="normal" textLength="14.8" lengthAdjust="spacingAndGlyphs" stroke="#333" stroke-width="0.25">1500</text>
<text x="297.56" y="276.00" font-size="6.9" fill="#333" text-anchor="middle" font-weight="normal" textLength="14.8" lengthAdjust="spacingAndGlyphs" stroke="#333" stroke-width="0.25">2000</text>
<text x="358.28" y="276.00" font-size="6.9" fill="#333" text-anchor="middle" font-weight="normal" textLength="14.8" lengthAdjust="spacingAndGlyphs" stroke="#333" stroke-width="0.25">2500</text>
<text x="419.00" y="276.00" font-size="6.9" fill="#333" text-anchor="middle" font-weight="normal" textLength="14.8" lengthAdjust="spacingAndGlyphs" stroke="#333" stroke-width="0.25">3000</text>
<text x="127.20" y="33.40" font-size="7.6" fill="#231f20" text-anchor="start" font-weight="normal" textLength="25.6" lengthAdjust="spacingAndGlyphs" stroke="#231f20" stroke-width="0.25">Baseline</text>
<text x="165.10" y="33.40" font-size="7.6" fill="#231f20" text-anchor="start" font-weight="normal" textLength="22.1" lengthAdjust="spacingAndGlyphs" stroke="#231f20" stroke-width="0.25">Pre CD</text>
<text x="196.10" y="24.60" font-size="7.6" fill="#4a8ecf" text-anchor="start" font-weight="normal" textLength="14.7" lengthAdjust="spacingAndGlyphs" stroke="#4a8ecf" stroke-width="0.25">Cold</text>
<text x="189.30" y="33.40" font-size="7.6" fill="#4a8ecf" text-anchor="start" font-weight="normal" textLength="28.8" lengthAdjust="spacingAndGlyphs" stroke="#4a8ecf" stroke-width="0.25">detection</text>
<text x="225.80" y="33.40" font-size="7.6" fill="#231f20" text-anchor="start" font-weight="normal" textLength="22.3" lengthAdjust="spacingAndGlyphs" stroke="#231f20" stroke-width="0.25">Pre HD</text>
<text x="258.50" y="24.60" font-size="7.6" fill="#4a8ecf" text-anchor="start" font-weight="normal" textLength="15.0" lengthAdjust="spacingAndGlyphs" stroke="#4a8ecf" stroke-width="0.25">Heat</text>
<text x="251.20" y="33.40" font-size="7.6" fill="#4a8ecf" text-anchor="start" font-weight="normal" textLength="29.5" lengthAdjust="spacingAndGlyphs" stroke="#4a8ecf" stroke-width="0.25">detection</text>
<text x="286.80" y="33.40" font-size="7.6" fill="#231f20" text-anchor="start" font-weight="normal" textLength="21.3" lengthAdjust="spacingAndGlyphs" stroke="#231f20" stroke-width="0.25">Pre HP</text>
<text x="320.00" y="24.60" font-size="7.6" fill="#4a8ecf" text-anchor="start" font-weight="normal" textLength="15.0" lengthAdjust="spacingAndGlyphs" stroke="#4a8ecf" stroke-width="0.25">Heat</text>
<text x="321.00" y="33.20" font-size="7.6" fill="#4a8ecf" text-anchor="start" font-weight="normal" textLength="13.4" lengthAdjust="spacingAndGlyphs" stroke="#4a8ecf" stroke-width="0.25">pain</text>
<text x="347.50" y="33.40" font-size="7.6" fill="#231f20" text-anchor="start" font-weight="normal" textLength="21.5" lengthAdjust="spacingAndGlyphs" stroke="#231f20" stroke-width="0.25">Pre CP</text>
<text x="389.20" y="24.60" font-size="7.6" fill="#4a8ecf" text-anchor="start" font-weight="normal" textLength="15.0" lengthAdjust="spacingAndGlyphs" stroke="#4a8ecf" stroke-width="0.25">Cold</text>
<text x="389.80" y="33.20" font-size="7.6" fill="#4a8ecf" text-anchor="start" font-weight="normal" textLength="13.5" lengthAdjust="spacingAndGlyphs" stroke="#4a8ecf" stroke-width="0.25">pain</text>
<text x="59.30" y="18.70" font-size="12.8" fill="#000" text-anchor="start" font-weight="bold">A</text>
<text x="266.20" y="119.10" font-size="8.2" fill="#4a8ecf" text-anchor="start" font-weight="normal" textLength="13.7" lengthAdjust="spacingAndGlyphs" stroke="#4a8ecf" stroke-width="0.25">oxip</text>
<text x="264.80" y="201.60" font-size="8.2" fill="#d94f3d" text-anchor="start" font-weight="normal" textLength="13.7" lengthAdjust="spacingAndGlyphs" stroke="#d94f3d" stroke-width="0.25">oxip</text>
<text x="278.60" y="203.60" font-size="5.8" fill="#d94f3d" text-anchor="start" font-weight="normal" stroke="#d94f3d" stroke-width="0.25">2</text>
<text x="272.80" y="289.00" font-size="9.2" fill="#231f20" text-anchor="middle" font-weight="normal" textLength="33.6" lengthAdjust="spacingAndGlyphs" stroke="#231f20" stroke-width="0.25">Time (secs)</text>
<text transform="translate(77.30,70.60) rotate(-90)" font-size="9.0" fill="#231f20" text-anchor="middle" font-weight="normal" textLength="28.4" lengthAdjust="spacingAndGlyphs" stroke="#231f20" stroke-width="0.25">Pulses of</text>
<text transform="translate(87.60,70.40) rotate(-90)" font-size="9.0" fill="#231f20" text-anchor="middle" font-weight="normal" textLength="49.0" lengthAdjust="spacingAndGlyphs" stroke="#231f20" stroke-width="0.25">thermal stimuli</text>
<text transform="translate(88.60,154.00) rotate(-90)" font-size="7.6" fill="#231f20" text-anchor="middle" font-weight="normal" textLength="28.0" lengthAdjust="spacingAndGlyphs" stroke="#231f20" stroke-width="0.25">Subject 1</text>
<text transform="translate(88.60,234.90) rotate(-90)" font-size="7.6" fill="#231f20" text-anchor="middle" font-weight="normal" textLength="28.4" lengthAdjust="spacingAndGlyphs" stroke="#231f20" stroke-width="0.25">Subject 2</text>
<text transform="translate(67.90,187.30) rotate(-90)" font-size="9.6" fill="#231f20" text-anchor="middle" font-weight="normal" textLength="80.0" lengthAdjust="spacingAndGlyphs" stroke="#231f20" stroke-width="0.25">Microvascular blood flow</text>
<path d="M79.3,152.4H75.5V225.5H79.3M75.5,187.6H73.3" fill="none" stroke="#3a7fc8" stroke-width="0.9"/>
<path d="M308.90,385.20 L313.50,386.22 L318.09,387.24 L322.69,388.25 L327.28,389.25 L331.88,390.24 L336.47,391.23 L341.06,392.20 L345.66,393.16 L350.25,394.11 L354.85,395.04 L359.44,395.96 L364.04,396.86 L368.63,397.74 L373.23,398.60 L377.82,399.43 L382.42,400.24 L387.01,401.03 L391.61,401.78 L396.20,402.51 L400.80,403.20 L405.39,403.87 L409.99,404.50 L414.58,405.11 L419.18,405.68 L423.77,406.23 L428.37,406.76 L432.96,407.26 L437.56,407.74 L442.15,408.20 L446.75,408.64 L451.34,409.07 L455.94,409.48 L460.53,409.88 L465.13,410.27 L469.72,410.64 L474.32,411.01 L478.91,411.37 L483.51,411.72 L488.11,412.06 L492.70,412.40 L492.70,432.80 L488.11,431.78 L483.51,430.76 L478.91,429.75 L474.32,428.75 L469.72,427.76 L465.13,426.78 L460.53,425.80 L455.94,424.84 L451.34,423.89 L446.75,422.96 L442.15,422.04 L437.56,421.14 L432.96,420.26 L428.37,419.40 L423.77,418.57 L419.18,417.76 L414.58,416.98 L409.99,416.22 L405.39,415.50 L400.80,414.80 L396.20,414.14 L391.61,413.50 L387.01,412.90 L382.42,412.32 L377.82,411.77 L373.23,411.24 L368.63,410.74 L364.04,410.26 L359.44,409.80 L354.85,409.36 L350.25,408.93 L345.66,408.52 L341.06,408.12 L336.47,407.73 L331.88,407.36 L327.28,406.99 L322.69,406.63 L318.09,406.28 L313.50,405.94 L308.90,405.60Z" fill="#7d9bdc" fill-opacity="0.38"/>
<path d="M308.90,380.20 L313.50,381.87 L318.09,383.54 L322.69,385.20 L327.28,386.85 L331.88,388.49 L336.47,390.13 L341.06,391.75 L345.66,393.37 L350.25,394.96 L354.85,396.55 L359.44,398.11 L364.04,399.66 L368.63,401.18 L373.23,402.68 L377.82,404.14 L382.42,405.58 L387.01,406.98 L391.61,408.34 L396.20,409.66 L400.80,410.93 L405.39,412.17 L409.99,413.36 L414.58,414.52 L419.18,415.63 L423.77,416.71 L428.37,417.76 L432.96,418.77 L437.56,419.77 L442.15,420.73 L446.75,421.68 L451.34,422.61 L455.94,423.53 L460.53,424.43 L465.13,425.32 L469.72,426.20 L474.32,427.06 L478.91,427.93 L483.51,428.78 L488.11,429.63 L492.70,430.47 L492.70,452.47 L488.11,450.80 L483.51,449.13 L478.91,447.47 L474.32,445.82 L469.72,444.18 L465.13,442.54 L460.53,440.92 L455.94,439.30 L451.34,437.70 L446.75,436.12 L442.15,434.56 L437.56,433.01 L432.96,431.49 L428.37,429.99 L423.77,428.53 L419.18,427.09 L414.58,425.69 L409.99,424.33 L405.39,423.01 L400.80,421.73 L396.20,420.50 L391.61,419.31 L387.01,418.15 L382.42,417.04 L377.82,415.96 L373.23,414.91 L368.63,413.89 L364.04,412.90 L359.44,411.93 L354.85,410.99 L350.25,410.06 L345.66,409.14 L341.06,408.24 L336.47,407.35 L331.88,406.47 L327.28,405.60 L322.69,404.74 L318.09,403.89 L313.50,403.04 L308.90,402.20Z" fill="#e0707f" fill-opacity="0.38"/>
<path d="M57.5,369.0 L100.4,381.0 L143.4,384.0 L186.3,384.0 L229.3,380.0 M57.5,378.0 L100.4,382.0 L143.4,386.0 L186.3,387.0 L229.3,386.0 M57.5,382.0 L100.4,389.0 L143.4,392.0 L186.3,390.0 L229.3,392.0 M57.5,385.0 L100.4,394.0 L143.4,396.0 L186.3,396.0 L229.3,404.0 M57.5,394.0 L100.4,399.0 L143.4,405.0 L186.3,412.0 L229.3,411.5 M57.5,396.0 L100.4,396.0 L143.4,402.0 L186.3,408.0 L229.3,422.0 M57.5,402.0 L100.4,404.0 L143.4,410.0 L186.3,418.0 L229.3,427.0 M57.5,407.0 L100.4,413.0 L143.4,418.0 L186.3,425.0 L229.3,433.0 M57.5,416.0 L100.4,419.0 L143.4,425.0 L186.3,429.0 L229.3,436.0 M57.5,419.0 L100.4,420.0 L143.4,428.0 L186.3,432.0 L229.3,443.0 M57.5,390.0 L100.4,405.0 L143.4,415.0 L186.3,431.0 L229.3,451.5 M57.5,400.0 L100.4,410.0 L143.4,425.0 L186.3,448.0 L229.3,457.0 M57.5,412.0 L100.4,415.0 L143.4,430.0 L186.3,454.0 L229.3,462.5 M57.5,374.0 L100.4,390.0 L143.4,410.0 L186.3,433.0 L229.3,469.0 M57.5,388.0 L100.4,402.0 L143.4,420.0 L186.3,440.0 L229.3,472.0 M57.5,380.0 L100.4,396.0 L143.4,409.0 L186.3,395.0 L229.3,387.0" fill="none" stroke="#2c4ea8" stroke-width="1.45" stroke-dasharray="2.6 1.9"/>
<path d="M57.5,358.9 L229.3,413.6 M57.5,364.2 L229.3,434.0 M57.5,366.0 L229.3,431.3 M57.5,369.8 L229.3,451.6 M57.5,371.7 L229.3,440.9 M57.5,376.4 L229.3,459.0 M57.5,379.2 L229.3,414.7 M57.5,382.0 L229.3,420.3 M57.5,385.4 L229.3,424.7 M57.5,388.6 L229.3,416.5 M57.5,394.2 L229.3,467.7 M57.5,404.5 L229.3,428.0 M57.5,412.0 L229.3,463.0 M57.5,418.6 L229.3,456.3 M57.5,420.5 L229.3,460.5 M57.5,439.2 L229.3,474.4" fill="none" stroke="#cb2f3b" stroke-width="1.0"/>
<circle cx="57.5" cy="362.9" r="1.15" fill="#cb2f3b"/><circle cx="317.4" cy="364.8" r="1.15" fill="#cb2f3b"/><circle cx="57.5" cy="364.3" r="1.15" fill="#cb2f3b"/><circle cx="317.4" cy="366.2" r="1.15" fill="#cb2f3b"/><circle cx="57.5" cy="365.7" r="1.15" fill="#cb2f3b"/><circle cx="317.4" cy="367.6" r="1.15" fill="#cb2f3b"/><circle cx="57.5" cy="367.3" r="1.15" fill="#cb2f3b"/><circle cx="317.4" cy="369.1" r="1.15" fill="#cb2f3b"/><circle cx="57.5" cy="374.9" r="1.15" fill="#2c4ea8"/><circle cx="317.4" cy="376.7" r="1.15" fill="#2c4ea8"/><circle cx="57.5" cy="376.8" r="1.15" fill="#cb2f3b"/><circle cx="317.4" cy="378.5" r="1.15" fill="#cb2f3b"/><circle cx="57.5" cy="378.3" r="1.15" fill="#cb2f3b"/><circle cx="317.4" cy="380.0" r="1.15" fill="#cb2f3b"/><circle cx="57.5" cy="381.6" r="1.15" fill="#2c4ea8"/><circle cx="317.4" cy="383.3" r="1.15" fill="#2c4ea8"/><circle cx="57.5" cy="385.9" r="1.15" fill="#2c4ea8"/><circle cx="317.4" cy="387.6" r="1.15" fill="#2c4ea8"/><circle cx="57.5" cy="388.2" r="1.15" fill="#cb2f3b"/><circle cx="317.4" cy="389.8" r="1.15" fill="#cb2f3b"/><circle cx="57.5" cy="391.4" r="1.15" fill="#2c4ea8"/><circle cx="317.4" cy="393.0" r="1.15" fill="#2c4ea8"/><circle cx="57.5" cy="393.6" r="1.15" fill="#cb2f3b"/><circle cx="317.4" cy="395.2" r="1.15" fill="#cb2f3b"/><circle cx="57.5" cy="395.8" r="1.15" fill="#2c4ea8"/><circle cx="317.4" cy="397.4" r="1.15" fill="#2c4ea8"/><circle cx="57.5" cy="398.1" r="1.15" fill="#cb2f3b"/><circle cx="317.4" cy="399.6" r="1.15" fill="#cb2f3b"/><circle cx="57.5" cy="400.2" r="1.15" fill="#cb2f3b"/><circle cx="317.4" cy="401.7" r="1.15" fill="#cb2f3b"/><circle cx="57.5" cy="402.4" r="1.15" fill="#cb2f3b"/><circle cx="317.4" cy="403.9" r="1.15" fill="#cb2f3b"/><circle cx="57.5" cy="409.0" r="1.15" fill="#cb2f3b"/><circle cx="317.4" cy="410.4" r="1.15" fill="#cb2f3b"/><circle cx="57.5" cy="411.2" r="1.15" fill="#2c4ea8"/><circle cx="317.4" cy="412.6" r="1.15" fill="#2c4ea8"/><circle cx="57.5" cy="413.4" r="1.15" fill="#2c4ea8"/><circle cx="317.4" cy="414.8" r="1.15" fill="#2c4ea8"/><circle cx="57.5" cy="415.6" r="1.15" fill="#2c4ea8"/><circle cx="317.4" cy="417.0" r="1.15" fill="#2c4ea8"/><circle cx="57.5" cy="418.5" r="1.15" fill="#cb2f3b"/><circle cx="317.4" cy="419.8" r="1.15" fill="#cb2f3b"/><circle cx="57.5" cy="428.8" r="1.15" fill="#cb2f3b"/><circle cx="317.4" cy="430.0" r="1.15" fill="#cb2f3b"/><circle cx="57.5" cy="434.2" r="1.15" fill="#2c4ea8"/><circle cx="317.4" cy="435.4" r="1.15" fill="#cb2f3b"/><circle cx="57.5" cy="460.6" r="1.15" fill="#2c4ea8"/><circle cx="317.4" cy="461.5" r="1.15" fill="#2c4ea8"/><circle cx="100.4" cy="359.0" r="1.15" fill="#2c4ea8"/><circle cx="359.2" cy="360.9" r="1.15" fill="#2c4ea8"/><circle cx="100.4" cy="362.2" r="1.15" fill="#cb2f3b"/><circle cx="359.2" cy="364.1" r="1.15" fill="#cb2f3b"/><circle cx="100.4" cy="364.4" r="1.15" fill="#cb2f3b"/><circle cx="359.2" cy="366.3" r="1.15" fill="#cb2f3b"/><circle cx="100.4" cy="366.7" r="1.15" fill="#cb2f3b"/><circle cx="359.2" cy="368.5" r="1.15" fill="#cb2f3b"/><circle cx="100.4" cy="369.9" r="1.15" fill="#2c4ea8"/><circle cx="359.2" cy="371.7" r="1.15" fill="#2c4ea8"/><circle cx="100.4" cy="372.1" r="1.15" fill="#cb2f3b"/><circle cx="359.2" cy="373.9" r="1.15" fill="#cb2f3b"/><circle cx="100.4" cy="373.7" r="1.15" fill="#cb2f3b"/><circle cx="359.2" cy="375.5" r="1.15" fill="#cb2f3b"/><circle cx="100.4" cy="375.4" r="1.15" fill="#cb2f3b"/><circle cx="359.2" cy="377.2" r="1.15" fill="#cb2f3b"/><circle cx="100.4" cy="376.5" r="1.15" fill="#2c4ea8"/><circle cx="359.2" cy="378.3" r="1.15" fill="#2c4ea8"/><circle cx="100.4" cy="383.1" r="1.15" fill="#2c4ea8"/><circle cx="359.2" cy="384.8" r="1.15" fill="#2c4ea8"/><circle cx="100.4" cy="385.3" r="1.15" fill="#cb2f3b"/><circle cx="359.2" cy="387.0" r="1.15" fill="#cb2f3b"/><circle cx="100.4" cy="388.6" r="1.15" fill="#2c4ea8"/><circle cx="359.2" cy="390.2" r="1.15" fill="#2c4ea8"/><circle cx="100.4" cy="391.9" r="1.15" fill="#2c4ea8"/><circle cx="359.2" cy="393.5" r="1.15" fill="#2c4ea8"/><circle cx="100.4" cy="393.5" r="1.15" fill="#2c4ea8"/><circle cx="359.2" cy="395.1" r="1.15" fill="#2c4ea8"/><circle cx="100.4" cy="395.1" r="1.15" fill="#2c4ea8"/><circle cx="359.2" cy="396.7" r="1.15" fill="#2c4ea8"/><circle cx="100.4" cy="400.7" r="1.15" fill="#2c4ea8"/><circle cx="359.2" cy="402.2" r="1.15" fill="#2c4ea8"/><circle cx="100.4" cy="410.6" r="1.15" fill="#2c4ea8"/><circle cx="359.2" cy="412.0" r="1.15" fill="#2c4ea8"/><circle cx="100.4" cy="413.8" r="1.15" fill="#cb2f3b"/><circle cx="359.2" cy="415.2" r="1.15" fill="#cb2f3b"/><circle cx="100.4" cy="416.0" r="1.15" fill="#cb2f3b"/><circle cx="359.2" cy="417.4" r="1.15" fill="#cb2f3b"/><circle cx="100.4" cy="419.4" r="1.15" fill="#2c4ea8"/><circle cx="359.2" cy="420.7" r="1.15" fill="#2c4ea8"/><circle cx="100.4" cy="420.4" r="1.15" fill="#2c4ea8"/><circle cx="359.2" cy="421.7" r="1.15" fill="#2c4ea8"/><circle cx="100.4" cy="425.9" r="1.15" fill="#cb2f3b"/><circle cx="359.2" cy="427.2" r="1.15" fill="#cb2f3b"/><circle cx="100.4" cy="428.1" r="1.15" fill="#cb2f3b"/><circle cx="359.2" cy="429.3" r="1.15" fill="#cb2f3b"/><circle cx="100.4" cy="429.8" r="1.15" fill="#cb2f3b"/><circle cx="359.2" cy="431.0" r="1.15" fill="#cb2f3b"/><circle cx="100.4" cy="431.4" r="1.15" fill="#cb2f3b"/><circle cx="359.2" cy="432.6" r="1.15" fill="#cb2f3b"/><circle cx="100.4" cy="435.8" r="1.15" fill="#2c4ea8"/><circle cx="359.2" cy="437.0" r="1.15" fill="#2c4ea8"/><circle cx="100.4" cy="451.2" r="1.15" fill="#cb2f3b"/><circle cx="359.2" cy="452.2" r="1.15" fill="#cb2f3b"/><circle cx="143.4" cy="335.3" r="1.15" fill="#2c4ea8"/><circle cx="400.9" cy="337.5" r="1.15" fill="#2c4ea8"/><circle cx="143.4" cy="358.2" r="1.15" fill="#2c4ea8"/><circle cx="400.9" cy="360.1" r="1.15" fill="#2c4ea8"/><circle cx="143.4" cy="363.6" r="1.15" fill="#2c4ea8"/><circle cx="400.9" cy="365.5" r="1.15" fill="#2c4ea8"/><circle cx="143.4" cy="377.6" r="1.15" fill="#cb2f3b"/><circle cx="400.9" cy="379.3" r="1.15" fill="#cb2f3b"/><circle cx="143.4" cy="379.0" r="1.15" fill="#cb2f3b"/><circle cx="400.9" cy="380.7" r="1.15" fill="#cb2f3b"/><circle cx="143.4" cy="380.3" r="1.15" fill="#cb2f3b"/><circle cx="400.9" cy="382.0" r="1.15" fill="#cb2f3b"/><circle cx="143.4" cy="383.0" r="1.15" fill="#cb2f3b"/><circle cx="400.9" cy="384.7" r="1.15" fill="#cb2f3b"/><circle cx="143.4" cy="385.6" r="1.15" fill="#cb2f3b"/><circle cx="400.9" cy="387.3" r="1.15" fill="#cb2f3b"/><circle cx="143.4" cy="389.2" r="1.15" fill="#cb2f3b"/><circle cx="400.9" cy="390.8" r="1.15" fill="#cb2f3b"/><circle cx="143.4" cy="392.4" r="1.15" fill="#2c4ea8"/><circle cx="400.9" cy="394.0" r="1.15" fill="#2c4ea8"/><circle cx="143.4" cy="395.1" r="1.15" fill="#2c4ea8"/><circle cx="400.9" cy="396.7" r="1.15" fill="#2c4ea8"/><circle cx="143.4" cy="397.3" r="1.15" fill="#cb2f3b"/><circle cx="400.9" cy="398.8" r="1.15" fill="#cb2f3b"/><circle cx="143.4" cy="399.2" r="1.15" fill="#cb2f3b"/><circle cx="400.9" cy="400.7" r="1.15" fill="#cb2f3b"/><circle cx="143.4" cy="413.9" r="1.15" fill="#2c4ea8"/><circle cx="400.9" cy="415.3" r="1.15" fill="#2c4ea8"/><circle cx="143.4" cy="416.6" r="1.15" fill="#cb2f3b"/><circle cx="400.9" cy="418.0" r="1.15" fill="#cb2f3b"/><circle cx="143.4" cy="419.4" r="1.15" fill="#2c4ea8"/><circle cx="400.9" cy="420.7" r="1.15" fill="#2c4ea8"/><circle cx="143.4" cy="422.0" r="1.15" fill="#cb2f3b"/><circle cx="400.9" cy="423.3" r="1.15" fill="#cb2f3b"/><circle cx="143.4" cy="430.1" r="1.15" fill="#cb2f3b"/><circle cx="400.9" cy="431.3" r="1.15" fill="#cb2f3b"/><circle cx="143.4" cy="432.8" r="1.15" fill="#2c4ea8"/><circle cx="400.9" cy="434.0" r="1.15" fill="#2c4ea8"/><circle cx="143.4" cy="434.9" r="1.15" fill="#2c4ea8"/><circle cx="400.9" cy="436.1" r="1.15" fill="#2c4ea8"/><circle cx="143.4" cy="440.9" r="1.15" fill="#2c4ea8"/><circle cx="400.9" cy="442.0" r="1.15" fill="#2c4ea8"/><circle cx="143.4" cy="447.7" r="1.15" fill="#cb2f3b"/><circle cx="400.9" cy="448.7" r="1.15" fill="#cb2f3b"/><circle cx="143.4" cy="450.3" r="1.15" fill="#cb2f3b"/><circle cx="400.9" cy="451.3" r="1.15" fill="#cb2f3b"/><circle cx="143.4" cy="454.3" r="1.15" fill="#cb2f3b"/><circle cx="400.9" cy="455.3" r="1.15" fill="#cb2f3b"/><circle cx="143.4" cy="458.4" r="1.15" fill="#2c4ea8"/><circle cx="400.9" cy="459.3" r="1.15" fill="#2c4ea8"/><circle cx="186.3" cy="371.2" r="1.15" fill="#2c4ea8"/><circle cx="442.7" cy="373.0" r="1.15" fill="#2c4ea8"/><circle cx="186.3" cy="375.5" r="1.15" fill="#2c4ea8"/><circle cx="442.7" cy="377.3" r="1.15" fill="#2c4ea8"/><circle cx="186.3" cy="380.8" r="1.15" fill="#2c4ea8"/><circle cx="442.7" cy="382.5" r="1.15" fill="#2c4ea8"/><circle cx="186.3" cy="382.7" r="1.15" fill="#cb2f3b"/><circle cx="442.7" cy="384.4" r="1.15" fill="#cb2f3b"/><circle cx="186.3" cy="384.8" r="1.15" fill="#2c4ea8"/><circle cx="442.7" cy="386.5" r="1.15" fill="#2c4ea8"/><circle cx="186.3" cy="393.5" r="1.15" fill="#cb2f3b"/><circle cx="442.7" cy="395.1" r="1.15" fill="#cb2f3b"/><circle cx="186.3" cy="404.7" r="1.15" fill="#2c4ea8"/><circle cx="442.7" cy="406.2" r="1.15" fill="#2c4ea8"/><circle cx="186.3" cy="408.4" r="1.15" fill="#2c4ea8"/><circle cx="442.7" cy="409.8" r="1.15" fill="#2c4ea8"/><circle cx="186.3" cy="411.9" r="1.15" fill="#2c4ea8"/><circle cx="442.7" cy="413.3" r="1.15" fill="#2c4ea8"/><circle cx="186.3" cy="414.8" r="1.15" fill="#cb2f3b"/><circle cx="442.7" cy="416.2" r="1.15" fill="#cb2f3b"/><circle cx="186.3" cy="417.9" r="1.15" fill="#cb2f3b"/><circle cx="442.7" cy="419.2" r="1.15" fill="#cb2f3b"/><circle cx="186.3" cy="420.3" r="1.15" fill="#cb2f3b"/><circle cx="442.7" cy="421.6" r="1.15" fill="#cb2f3b"/><circle cx="186.3" cy="422.7" r="1.15" fill="#cb2f3b"/><circle cx="442.7" cy="424.0" r="1.15" fill="#cb2f3b"/><circle cx="186.3" cy="426.2" r="1.15" fill="#cb2f3b"/><circle cx="442.7" cy="427.5" r="1.15" fill="#cb2f3b"/><circle cx="186.3" cy="429.9" r="1.15" fill="#2c4ea8"/><circle cx="442.7" cy="431.1" r="1.15" fill="#2c4ea8"/><circle cx="186.3" cy="432.7" r="1.15" fill="#2c4ea8"/><circle cx="442.7" cy="433.9" r="1.15" fill="#2c4ea8"/><circle cx="186.3" cy="440.7" r="1.15" fill="#cb2f3b"/><circle cx="442.7" cy="441.8" r="1.15" fill="#cb2f3b"/><circle cx="186.3" cy="443.7" r="1.15" fill="#cb2f3b"/><circle cx="442.7" cy="444.8" r="1.15" fill="#cb2f3b"/><circle cx="186.3" cy="445.4" r="1.15" fill="#cb2f3b"/><circle cx="442.7" cy="446.5" r="1.15" fill="#cb2f3b"/><circle cx="186.3" cy="447.2" r="1.15" fill="#cb2f3b"/><circle cx="442.7" cy="448.2" r="1.15" fill="#cb2f3b"/><circle cx="186.3" cy="449.0" r="1.15" fill="#2c4ea8"/><circle cx="442.7" cy="450.0" r="1.15" fill="#2c4ea8"/><circle cx="186.3" cy="451.0" r="1.15" fill="#2c4ea8"/><circle cx="442.7" cy="452.0" r="1.15" fill="#2c4ea8"/><circle cx="186.3" cy="452.6" r="1.15" fill="#cb2f3b"/><circle cx="442.7" cy="453.6" r="1.15" fill="#cb2f3b"/><circle cx="186.3" cy="454.3" r="1.15" fill="#cb2f3b"/><circle cx="442.7" cy="455.3" r="1.15" fill="#cb2f3b"/><circle cx="186.3" cy="472.5" r="1.15" fill="#cb2f3b"/><circle cx="442.7" cy="473.3" r="1.15" fill="#cb2f3b"/><circle cx="229.3" cy="378.5" r="1.15" fill="#2c4ea8"/><circle cx="484.8" cy="380.2" r="1.15" fill="#2c4ea8"/><circle cx="229.3" cy="385.8" r="1.15" fill="#2c4ea8"/><circle cx="484.8" cy="387.5" r="1.15" fill="#2c4ea8"/><circle cx="229.3" cy="393.9" r="1.15" fill="#2c4ea8"/><circle cx="484.8" cy="395.5" r="1.15" fill="#2c4ea8"/><circle cx="229.3" cy="401.9" r="1.15" fill="#cb2f3b"/><circle cx="484.8" cy="403.4" r="1.15" fill="#cb2f3b"/><circle cx="229.3" cy="404.9" r="1.15" fill="#2c4ea8"/><circle cx="484.8" cy="406.4" r="1.15" fill="#2c4ea8"/><circle cx="229.3" cy="406.7" r="1.15" fill="#2c4ea8"/><circle cx="484.8" cy="408.2" r="1.15" fill="#2c4ea8"/><circle cx="229.3" cy="410.0" r="1.15" fill="#2c4ea8"/><circle cx="484.8" cy="411.4" r="1.15" fill="#2c4ea8"/><circle cx="229.3" cy="411.8" r="1.15" fill="#2c4ea8"/><circle cx="484.8" cy="413.2" r="1.15" fill="#2c4ea8"/><circle cx="229.3" cy="415.2" r="1.15" fill="#cb2f3b"/><circle cx="484.8" cy="416.6" r="1.15" fill="#cb2f3b"/><circle cx="229.3" cy="421.4" r="1.15" fill="#2c4ea8"/><circle cx="484.8" cy="422.7" r="1.15" fill="#2c4ea8"/><circle cx="229.3" cy="423.7" r="1.15" fill="#cb2f3b"/><circle cx="484.8" cy="425.0" r="1.15" fill="#cb2f3b"/><circle cx="229.3" cy="427.4" r="1.15" fill="#2c4ea8"/><circle cx="484.8" cy="428.6" r="1.15" fill="#2c4ea8"/><circle cx="229.3" cy="430.2" r="1.15" fill="#cb2f3b"/><circle cx="484.8" cy="431.4" r="1.15" fill="#cb2f3b"/><circle cx="229.3" cy="435.2" r="1.15" fill="#2c4ea8"/><circle cx="484.8" cy="436.4" r="1.15" fill="#2c4ea8"/><circle cx="229.3" cy="437.1" r="1.15" fill="#cb2f3b"/><circle cx="484.8" cy="438.2" r="1.15" fill="#cb2f3b"/><circle cx="229.3" cy="438.4" r="1.15" fill="#cb2f3b"/><circle cx="484.8" cy="439.5" r="1.15" fill="#cb2f3b"/><circle cx="229.3" cy="442.1" r="1.15" fill="#2c4ea8"/><circle cx="484.8" cy="443.2" r="1.15" fill="#2c4ea8"/><circle cx="229.3" cy="450.1" r="1.15" fill="#cb2f3b"/><circle cx="484.8" cy="451.1" r="1.15" fill="#cb2f3b"/><circle cx="229.3" cy="452.0" r="1.15" fill="#cb2f3b"/><circle cx="484.8" cy="453.0" r="1.15" fill="#cb2f3b"/><circle cx="229.3" cy="455.8" r="1.15" fill="#cb2f3b"/><circle cx="484.8" cy="456.8" r="1.15" fill="#cb2f3b"/><circle cx="229.3" cy="458.9" r="1.15" fill="#cb2f3b"/><circle cx="484.8" cy="459.8" r="1.15" fill="#cb2f3b"/><circle cx="229.3" cy="462.7" r="1.15" fill="#2c4ea8"/><circle cx="484.8" cy="463.6" r="1.15" fill="#2c4ea8"/><circle cx="229.3" cy="468.1" r="1.15" fill="#cb2f3b"/><circle cx="484.8" cy="468.9" r="1.15" fill="#cb2f3b"/><circle cx="229.3" cy="478.4" r="1.15" fill="#2c4ea8"/><circle cx="484.8" cy="479.1" r="1.15" fill="#2c4ea8"/>
<line x1="308.9" y1="391.20" x2="492.7" y2="441.47" stroke="#cb2f3b" stroke-width="1.1"/>
<line x1="308.9" y1="395.40" x2="492.7" y2="422.60" stroke="#2c4ea8" stroke-width="1.4" stroke-dasharray="2.6 2.1"/>
<path d="M36.20,318.60V487.20H251.50M33.10,472.20H36.20M35.00,457.10H36.20M33.10,442.00H36.20M35.00,426.90H36.20M33.10,411.80H36.20M35.00,396.70H36.20M33.10,381.60H36.20M35.00,366.50H36.20M33.10,351.40H36.20M35.00,336.30H36.20M33.10,321.20H36.20" fill="none" stroke="#111" stroke-width="1.1"/>
<text x="30.20" y="474.60" font-size="6.9" fill="#333" text-anchor="end" font-weight="normal" textLength="9.4" lengthAdjust="spacingAndGlyphs" stroke="#333" stroke-width="0.25">0.2</text>
<text x="30.20" y="444.40" font-size="6.9" fill="#333" text-anchor="end" font-weight="normal" textLength="9.4" lengthAdjust="spacingAndGlyphs" stroke="#333" stroke-width="0.25">0.4</text>
<text x="30.20" y="414.20" font-size="6.9" fill="#333" text-anchor="end" font-weight="normal" textLength="9.4" lengthAdjust="spacingAndGlyphs" stroke="#333" stroke-width="0.25">0.6</text>
<text x="30.20" y="384.00" font-size="6.9" fill="#333" text-anchor="end" font-weight="normal" textLength="9.4" lengthAdjust="spacingAndGlyphs" stroke="#333" stroke-width="0.25">0.8</text>
<text x="30.20" y="353.80" font-size="6.9" fill="#333" text-anchor="end" font-weight="normal" textLength="9.4" lengthAdjust="spacingAndGlyphs" stroke="#333" stroke-width="0.25">1.0</text>
<text x="30.20" y="323.60" font-size="6.9" fill="#333" text-anchor="end" font-weight="normal" textLength="9.4" lengthAdjust="spacingAndGlyphs" stroke="#333" stroke-width="0.25">1.2</text>
<path d="M297.30,320.40V487.10H512.80M294.20,473.00H297.30M296.10,458.05H297.30M294.20,443.10H297.30M296.10,428.15H297.30M294.20,413.20H297.30M296.10,398.25H297.30M294.20,383.30H297.30M296.10,368.35H297.30M294.20,353.40H297.30M296.10,338.45H297.30M294.20,323.50H297.30" fill="none" stroke="#111" stroke-width="1.1"/>
<text x="291.30" y="475.40" font-size="6.9" fill="#333" text-anchor="end" font-weight="normal" textLength="9.4" lengthAdjust="spacingAndGlyphs" stroke="#333" stroke-width="0.25">0.2</text>
<text x="291.30" y="445.50" font-size="6.9" fill="#333" text-anchor="end" font-weight="normal" textLength="9.4" lengthAdjust="spacingAndGlyphs" stroke="#333" stroke-width="0.25">0.4</text>
<text x="291.30" y="415.60" font-size="6.9" fill="#333" text-anchor="end" font-weight="normal" textLength="9.4" lengthAdjust="spacingAndGlyphs" stroke="#333" stroke-width="0.25">0.6</text>
<text x="291.30" y="385.70" font-size="6.9" fill="#333" text-anchor="end" font-weight="normal" textLength="9.4" lengthAdjust="spacingAndGlyphs" stroke="#333" stroke-width="0.25">0.8</text>
<text x="291.30" y="355.80" font-size="6.9" fill="#333" text-anchor="end" font-weight="normal" textLength="9.4" lengthAdjust="spacingAndGlyphs" stroke="#333" stroke-width="0.25">1.0</text>
<text x="291.30" y="325.90" font-size="6.9" fill="#333" text-anchor="end" font-weight="normal" textLength="9.4" lengthAdjust="spacingAndGlyphs" stroke="#333" stroke-width="0.25">1.2</text>
<text x="45.00" y="496.60" font-size="7.4" fill="#231f20" text-anchor="start" font-weight="normal" textLength="25.9" lengthAdjust="spacingAndGlyphs" stroke="#231f20" stroke-width="0.25">Baseline</text>
<text x="306.10" y="496.60" font-size="7.4" fill="#231f20" text-anchor="start" font-weight="normal" textLength="25.9" lengthAdjust="spacingAndGlyphs" stroke="#231f20" stroke-width="0.25">Baseline</text>
<text x="89.70" y="496.60" font-size="7.4" fill="#231f20" text-anchor="start" font-weight="normal" textLength="22.2" lengthAdjust="spacingAndGlyphs" stroke="#231f20" stroke-width="0.25">Pre CD</text>
<text x="349.60" y="496.60" font-size="7.4" fill="#231f20" text-anchor="start" font-weight="normal" textLength="22.2" lengthAdjust="spacingAndGlyphs" stroke="#231f20" stroke-width="0.25">Pre CD</text>
<text x="132.80" y="496.60" font-size="7.4" fill="#231f20" text-anchor="start" font-weight="normal" textLength="22.1" lengthAdjust="spacingAndGlyphs" stroke="#231f20" stroke-width="0.25">Pre HD</text>
<text x="390.70" y="496.60" font-size="7.4" fill="#231f20" text-anchor="start" font-weight="normal" textLength="22.1" lengthAdjust="spacingAndGlyphs" stroke="#231f20" stroke-width="0.25">Pre HD</text>
<text x="175.60" y="496.60" font-size="7.4" fill="#231f20" text-anchor="start" font-weight="normal" textLength="21.6" lengthAdjust="spacingAndGlyphs" stroke="#231f20" stroke-width="0.25">Pre HP</text>
<text x="433.00" y="496.60" font-size="7.4" fill="#231f20" text-anchor="start" font-weight="normal" textLength="21.6" lengthAdjust="spacingAndGlyphs" stroke="#231f20" stroke-width="0.25">Pre HP</text>
<text x="218.50" y="496.60" font-size="7.4" fill="#231f20" text-anchor="start" font-weight="normal" textLength="21.6" lengthAdjust="spacingAndGlyphs" stroke="#231f20" stroke-width="0.25">Pre CP</text>
<text x="474.60" y="496.60" font-size="7.4" fill="#231f20" text-anchor="start" font-weight="normal" textLength="21.6" lengthAdjust="spacingAndGlyphs" stroke="#231f20" stroke-width="0.25">Pre CP</text>
<text transform="translate(14.70,402.60) rotate(-90)" font-size="9.6" fill="#231f20" text-anchor="middle" font-weight="normal" textLength="101.3" lengthAdjust="spacingAndGlyphs" stroke="#231f20" stroke-width="0.25">Mean microvascular blood flow</text>
<text transform="translate(275.90,402.10) rotate(-90)" font-size="9.6" fill="#231f20" text-anchor="middle" font-weight="normal" textLength="101.3" lengthAdjust="spacingAndGlyphs" stroke="#231f20" stroke-width="0.25">Mean microvascular blood flow</text>
<text x="8.00" y="318.10" font-size="12.6" fill="#000" text-anchor="start" font-weight="bold">B</text>
<text x="268.40" y="318.50" font-size="12.6" fill="#000" text-anchor="start" font-weight="bold">C</text>
<rect x="210.1" y="326.1" width="4.7" height="1.7" fill="#2c4ea8"/>
<rect x="220.1" y="326.1" width="2.0" height="1.7" fill="#2c4ea8"/>
<rect x="210.1" y="335.1" width="12.0" height="1.3" fill="#cb2f3b"/>
<text x="224.80" y="329.10" font-size="7.0" fill="#231f20" text-anchor="start" font-weight="normal" textLength="19.4" lengthAdjust="spacingAndGlyphs" stroke="#231f20" stroke-width="0.25">Control</text>
<text x="224.80" y="337.70" font-size="7.0" fill="#231f20" text-anchor="start" font-weight="normal" textLength="11.5" lengthAdjust="spacingAndGlyphs" stroke="#231f20" stroke-width="0.25">SCD</text>
<rect x="466.3" y="327.2" width="4.7" height="1.7" fill="#2c4ea8"/>
<rect x="476.3" y="327.2" width="2.0" height="1.7" fill="#2c4ea8"/>
<rect x="466.3" y="336.2" width="12.0" height="1.3" fill="#cb2f3b"/>
<text x="481.00" y="330.20" font-size="7.0" fill="#231f20" text-anchor="start" font-weight="normal" textLength="19.4" lengthAdjust="spacingAndGlyphs" stroke="#231f20" stroke-width="0.25">Control</text>
<text x="481.00" y="338.80" font-size="7.0" fill="#231f20" text-anchor="start" font-weight="normal" textLength="11.5" lengthAdjust="spacingAndGlyphs" stroke="#231f20" stroke-width="0.25">SCD</text>
<text x="302.20" y="332.60" font-size="6.6" fill="#333" text-anchor="start" font-weight="normal" textLength="4.3" lengthAdjust="spacingAndGlyphs" stroke="#333" stroke-width="0.25">R</text>
<text x="306.60" y="330.00" font-size="4.4" fill="#333" text-anchor="start" font-weight="normal" stroke="#333" stroke-width="0.25">2</text>
<text x="310.00" y="332.60" font-size="6.6" fill="#333" text-anchor="start" font-weight="normal" textLength="36.7" lengthAdjust="spacingAndGlyphs" stroke="#333" stroke-width="0.25">(Control): 0.11</text>
<text x="302.20" y="339.60" font-size="6.6" fill="#333" text-anchor="start" font-weight="normal" textLength="4.3" lengthAdjust="spacingAndGlyphs" stroke="#333" stroke-width="0.25">R</text>
<text x="306.60" y="337.00" font-size="4.4" fill="#333" text-anchor="start" font-weight="normal" stroke="#333" stroke-width="0.25">2</text>
<text x="310.00" y="339.60" font-size="6.6" fill="#333" text-anchor="start" font-weight="normal" textLength="29.4" lengthAdjust="spacingAndGlyphs" stroke="#333" stroke-width="0.25">(SCD): 0.32</text>
<path d="M0,0H520V0.95H0Z M0,0H1.1V506H0Z M518.8,0H520V506H518.8Z M0,504.6H520V506H0Z" fill="#000"/></svg>
</body></html>
